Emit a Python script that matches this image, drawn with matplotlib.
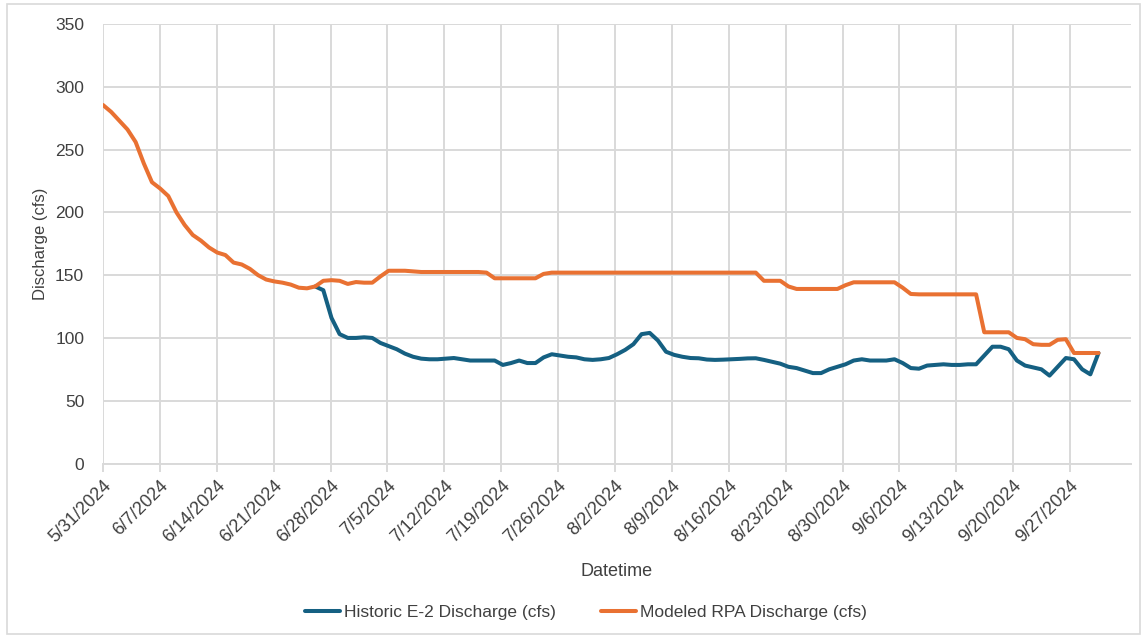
import numpy as np
import pandas as pd
import matplotlib
matplotlib.use("Agg")
import matplotlib.pyplot as plt
from matplotlib.patches import Rectangle

# daily values, 5/31/2024 .. 9/30/2024
start = pd.Timestamp("2024-05-31")

modeled = [285.5, 280, 273, 266, 256, 239, 224, 219, 213, 200,
           190, 182, 177.5, 172, 168, 166, 160, 158.5, 155, 150,
           146.5, 145, 144, 142.5, 140, 139.5, 141, 145.5, 146, 145.5,
           143, 144.5, 144, 144, 149, 153.5, 153.5, 153.5, 153, 152.5,
           152.5, 152.5, 152.5, 152.5, 152.5, 152.5, 152.5, 152, 147.5, 147.5,
           147.5, 147.5, 147.5, 147.5, 151, 152, 152, 152, 152, 152,
           152, 152, 152, 152, 152, 152, 152, 152, 152, 152,
           152, 152, 152, 152, 152, 152, 152, 152, 152, 152,
           152, 145.5, 145.5, 145.5, 141, 139, 139, 139, 139, 139,
           139, 142, 144.3, 144.3, 144.3, 144.3, 144.3, 144.3, 140, 135,
           134.7, 134.7, 134.7, 134.7, 134.7, 134.7, 134.7, 134.7, 104.5, 104.5,
           104.5, 104.5, 100, 99, 95, 94.5, 94.5, 98.5, 99, 88,
           88, 88, 88]

# historic series matches the modeled one until 6/26, shown from there
hist_offset = 26
historic = [141, 138, 116, 103,
            100, 100, 100.5, 100, 96, 93.5, 91, 87.5, 85, 83.5,
            83, 83, 83.5, 84, 83, 82, 82, 82, 82, 78.5,
            80, 82, 80, 80, 84.5, 87, 86, 85, 84.5, 83,
            82.5, 83, 84, 87, 90.5, 95, 103, 104, 98, 89,
            86.5, 85, 84, 83.8, 82.8, 82.5, 82.7, 83, 83.3, 83.7,
            83.8, 82.5, 81, 79.5, 77, 76, 74, 72, 72, 75,
            77, 79, 82, 83, 82, 82, 82, 83, 80, 76,
            75.5, 78, 78.5, 79, 78.5, 78.5, 79, 79, 86, 93,
            93, 91, 82, 78, 76.5, 75, 70, 77, 84, 83,
            75, 71, 88]

days = np.linspace(0, 122.5, len(modeled))
dates = start + pd.to_timedelta(days, unit="D")
hist_dates = dates[hist_offset:]

tick_dates = start + pd.to_timedelta(np.arange(0, 120, 7), unit="D")
tick_labels = ["{}/{}/{}".format(d.month, d.day, d.year) for d in tick_dates]

blue = "#156082"
orange = "#E97132"
grid = "#D9D9D9"
txt = "#404040"
narrow = ["Liberation Sans Narrow", "Liberation Sans"]

fig = plt.figure(figsize=(11.45, 6.38), dpi=100)
ax = fig.add_axes([103 / 1145, 174.5 / 638, 1028 / 1145, 439.5 / 638])

ax.plot(hist_dates, historic, color=blue, lw=2.9, label="Historic E-2 Discharge (cfs)",
        solid_joinstyle="round", solid_capstyle="round")
ax.plot(dates, modeled, color=orange, lw=2.9, label="Modeled RPA Discharge (cfs)",
        solid_joinstyle="round", solid_capstyle="round")

ax.set_xlim(start, start + pd.Timedelta(days=126.5))
ax.set_ylim(0, 350)
ax.set_yticks(np.arange(0, 351, 50))
ax.set_xticks(tick_dates)
ax.set_xticklabels(tick_labels, rotation=45, ha="right", va="top",
                   rotation_mode="anchor", fontsize=13, color=txt,
                   family="Liberation Sans")
for lab in ax.get_yticklabels():
    lab.set_fontsize(12.5)
    lab.set_color(txt)
    lab.set_family("Liberation Sans")

ax.grid(True, color=grid, lw=1.4)
ax.set_axisbelow(True)
for s in ["top", "right", "left"]:
    ax.spines[s].set_visible(False)
ax.spines["bottom"].set_color(grid)
ax.spines["bottom"].set_linewidth(1.4)
ax.tick_params(axis="x", length=6, color=grid, width=1.4, pad=4)
ax.tick_params(axis="y", length=0, pad=13.5)

ax.set_xlabel("Datetime", fontsize=13, color=txt, family=narrow, labelpad=12)
ax.set_ylabel("Discharge (cfs)", fontsize=12, color=txt, family=narrow, labelpad=5)

fig.legend(loc="center", bbox_to_anchor=(586 / 1145, 1 - 612 / 638), ncol=2,
           frameon=False, handlelength=2.0, handletextpad=0.25, columnspacing=2.6,
           prop={"family": narrow, "size": 12.5}, labelcolor=txt)

fig.patches.append(Rectangle((7 / 1145, 4 / 638), 1133 / 1145, 630 / 638,
                             transform=fig.transFigure, fill=False,
                             edgecolor=grid, lw=1.2))

fig.savefig("out.png", dpi=100)
